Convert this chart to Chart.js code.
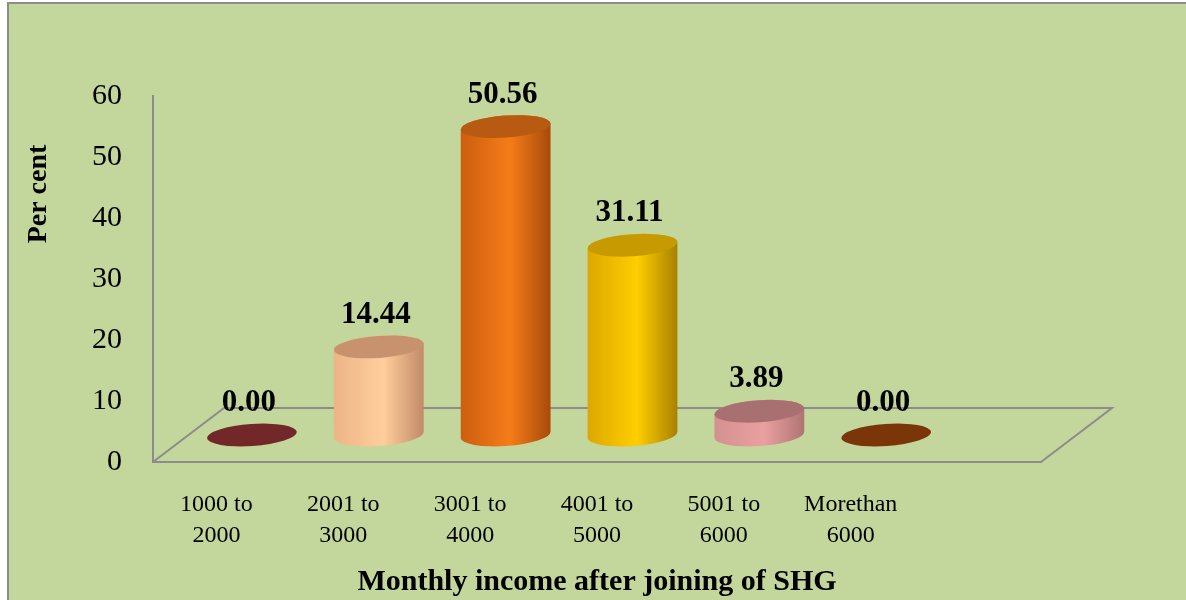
<!DOCTYPE html>
<html><head><meta charset="utf-8">
<script src="https://cdn.jsdelivr.net/npm/chart.js@4.4.1/dist/chart.umd.min.js"></script>
<style>html,body{margin:0;padding:0;background:#fff;} canvas{display:block;}</style>
</head><body>
<canvas id="c" width="1186" height="600"></canvas>
<script>
// ---- data ----
const categories = [["1000 to","2000"],["2001 to","3000"],["3001 to","4000"],["4001 to","5000"],["5001 to","6000"],["Morethan","6000"]];
const percentValues = [0.00, 14.44, 50.56, 31.11, 3.89, 0.00];
const yTickValues = [0, 10, 20, 30, 40, 50, 60];
const xAxisTitle = "Monthly income after joining of SHG";
const yAxisTitle = "Per cent";

// ---- styles ----
const bodyLeft  = [null, '#EDB488', '#CC5E10', '#DCA800', '#D49090', null];
const bodyMid   = [null, '#FFCE9C', '#F57C18', '#FFCE00', '#EAA0A0', null];
const bodyRight = [null, '#C28A68', '#A84A0A', '#A88000', '#B07474', null];
const topColors = ['#722828', '#C8926E', '#B85A12', '#C69A00', '#A87070', '#7A3508'];
const BG = '#C3D69B', LINE = '#8C8C8C';
const DX = 71, DY = -54;          // floor depth
const RX = 45, RY = 11, ROT = -0.07;

const framePlugin = {
  id: 'frame',
  beforeDraw(chart) {
    const c = chart.ctx;
    c.save();
    c.fillStyle = '#fff'; c.fillRect(0, 0, chart.width, chart.height);
    c.fillStyle = BG; c.fillRect(8, 3, chart.width - 8, chart.height - 3);
    c.strokeStyle = LINE; c.lineWidth = 2;
    c.beginPath(); c.moveTo(8, chart.height); c.lineTo(8, 3); c.lineTo(chart.width, 3); c.stroke();
    c.restore();
  },
  beforeDatasetsDraw(chart) {
    const a = chart.chartArea, c = chart.ctx;
    c.save();
    c.strokeStyle = LINE; c.lineWidth = 2;
    c.beginPath();
    c.moveTo(a.left, a.bottom); c.lineTo(a.left + DX, a.bottom + DY);
    c.lineTo(a.right + DX, a.bottom + DY); c.lineTo(a.right, a.bottom);
    c.stroke();
    c.restore();
  },
  afterDatasetsDraw(chart) {
    const c = chart.ctx;
    const meta = chart.getDatasetMeta(0);
    const y0 = chart.scales.y.getPixelForValue(0);
    meta.data.forEach((bar, i) => {
      const v = percentValues[i];
      const cx = bar.x + DX / 2, by = y0 + DY / 2, ty = bar.y + DY / 2;
      c.save();
      if (v > 0) {
        const g = c.createLinearGradient(cx - RX, 0, cx + RX, 0);
        g.addColorStop(0, bodyLeft[i]); g.addColorStop(0.55, bodyMid[i]); g.addColorStop(1, bodyRight[i]);
        c.fillStyle = g;
        c.beginPath();
        c.ellipse(cx, ty, RX, RY, ROT, Math.PI, 2 * Math.PI);
        c.ellipse(cx, by, RX, RY, ROT, 0, Math.PI);
        c.closePath();
        c.fill();
      }
      c.fillStyle = topColors[i];
      c.beginPath();
      c.ellipse(cx, ty, RX, RY, ROT, 0, 2 * Math.PI);
      c.fill();
      c.fillStyle = '#000';
      c.font = 'bold 31px "Liberation Serif"';
      c.textAlign = 'center'; c.textBaseline = 'alphabetic';
      c.fillText(v.toFixed(2), cx - 3, ty - 24);
      c.restore();
    });
  },
  afterDraw(chart) {
    const c = chart.ctx;
    c.save();
    c.translate(39, 194);
    c.rotate(-Math.PI / 2);
    c.fillStyle = '#000';
    c.font = 'bold 28px "Liberation Serif"';
    c.textAlign = 'center'; c.textBaseline = 'middle';
    c.fillText(yAxisTitle, 0, 0);
    c.restore();
  }
};

new Chart(document.getElementById('c'), {
  type: 'bar',
  data: {
    datasets: [{
      data: percentValues.map((v, i) => ({ x: i, y: v })),
      backgroundColor: 'rgba(0,0,0,0)', borderWidth: 0, barThickness: 90
    }]
  },
  options: {
    responsive: false, animation: false,
    layout: { padding: { left: 0, right: 145, top: 96, bottom: 0 } },
    plugins: { legend: { display: false }, tooltip: { enabled: false } },
    scales: {
      x: {
        type: 'linear', min: -0.5, max: 6.5, offset: false,
        grid: { display: false, drawTicks: false },
        border: { display: true, color: LINE, width: 2 },
        afterBuildTicks: s => { s.ticks = categories.map((_, i) => ({ value: i })); },
        afterFit: s => { s.height = 138; },
        ticks: {
          callback: v => categories[v],
          font: { family: 'Liberation Serif', size: 24, lineHeight: 1.3 },
          color: '#000', padding: 27, maxRotation: 0, autoSkip: false
        },
        title: {
          display: true, text: xAxisTitle, color: '#000',
          font: { family: 'Liberation Serif', size: 30, weight: 'bold' },
          padding: { top: 0, bottom: 0 }
        }
      },
      y: {
        min: 0, max: 60,
        afterBuildTicks: s => { s.ticks = yTickValues.map(v => ({ value: v })); },
        afterFit: s => { s.width = 153; },
        grid: { display: false, drawTicks: false },
        border: { display: true, color: LINE, width: 2 },
        ticks: { font: { family: 'Liberation Serif', size: 30 }, color: '#000', padding: 31 }
      }
    }
  },
  plugins: [framePlugin]
});
</script>
</body></html>
